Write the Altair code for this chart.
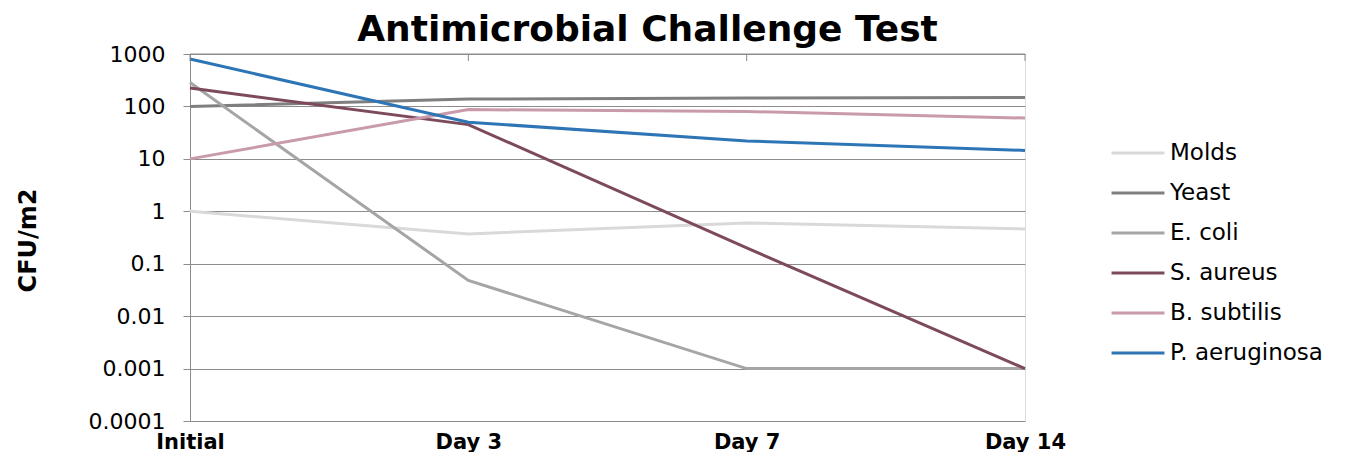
import altair as alt
import pandas as pd

days = ["Initial", "Day 3", "Day 7", "Day 14"]
series = ["Molds", "Yeast", "E. coli", "S. aureus", "B. subtilis", "P. aeruginosa"]
molds = [1, 0.37, 0.6, 0.46]
yeast = [100, 138, 145, 148]
ecoli = [285, 0.048, 0.001, 0.001]
saureus = [225, 45, 0.2, 0.001]
bsubtilis = [10, 87, 80, 60]
paeruginosa = [800, 50, 22, 14.5]
colors = ["#d9d9d9", "#7f7f7f", "#a5a5a5", "#7d4a5c", "#c99aaa", "#2e75b6"]
y_ticks = [0.0001, 0.001, 0.01, 0.1, 1, 10, 100, 1000]

values = [molds, yeast, ecoli, saureus, bsubtilis, paeruginosa]
rows = []
for s, vals in zip(series, values):
    for d, v in zip(days, vals):
        rows.append({"Day": d, "Organism": s, "CFU": v})
df = pd.DataFrame(rows)

FONT = "DejaVu Sans"

x_enc = alt.X("Day:N", sort=days,
              scale=alt.Scale(type="point", padding=0),
              axis=alt.Axis(title=None, labelFontWeight="bold", labelFontSize=21,
                            labelFont=FONT, labelColor="#000", labelPadding=10,
                            labelAngle=0, ticks=False, domain=False, grid=False))

lines = alt.Chart(df).mark_line(strokeWidth=3).encode(
    x=x_enc,
    y=alt.Y("CFU:Q",
            scale=alt.Scale(type="log", domain=[0.0001, 1000]),
            axis=alt.Axis(title="CFU/m2", values=y_ticks, labelExpr="datum.value + ''",
                          labelFontSize=22, labelFont=FONT, labelColor="#000",
                          tickSize=7, tickColor="#8c8c8c", labelPadding=18,
                          domainColor="#8c8c8c", gridColor="#8c8c8c",
                          titleFontSize=24, titleFont=FONT, titleFontWeight="bold",
                          titleColor="#000", titleX=-162, titleY=186, titleAngle=-90,
                          titleAlign="center", titleBaseline="middle")),
    color=alt.Color("Organism:N", sort=series,
                    scale=alt.Scale(domain=series, range=colors),
                    legend=alt.Legend(title=None, orient="none", legendX=920, legendY=71,
                                      symbolType="stroke", symbolSize=2800,
                                      symbolStrokeWidth=3, labelFontSize=23, labelFont=FONT,
                                      labelColor="#000", labelOffset=4, rowPadding=-14)),
    order=alt.Order("Organism:N"),
)

toprule = alt.Chart(pd.DataFrame({"Day": days})).mark_rule(color="#8c8c8c", strokeWidth=1).encode(
    x=alt.X("Day:N", sort=days, scale=alt.Scale(type="point", padding=0)),
    y=alt.value(0), y2=alt.value(7),
)
topline = alt.Chart(pd.DataFrame({"Day": [days[0]]})).mark_rule(color="#8c8c8c", strokeWidth=1).encode(
    x=alt.value(0), x2=alt.value(835), y=alt.value(0),
)

chart = alt.layer(lines, toprule, topline).properties(
    width=835, height=367,
    title=alt.TitleParams("Antimicrobial Challenge Test", fontSize=36, font=FONT,
                          fontWeight="bold", color="#000", anchor="middle", dx=40,
                          offset=8, dy=14),
    autosize=alt.AutoSizeParams(type="none"),
    padding={"left": 182, "top": 46, "right": 315, "bottom": 31},
).configure_view(stroke=None).configure(background="white")

chart.save("out.html", embed_options={"renderer": "svg", "actions": False})
